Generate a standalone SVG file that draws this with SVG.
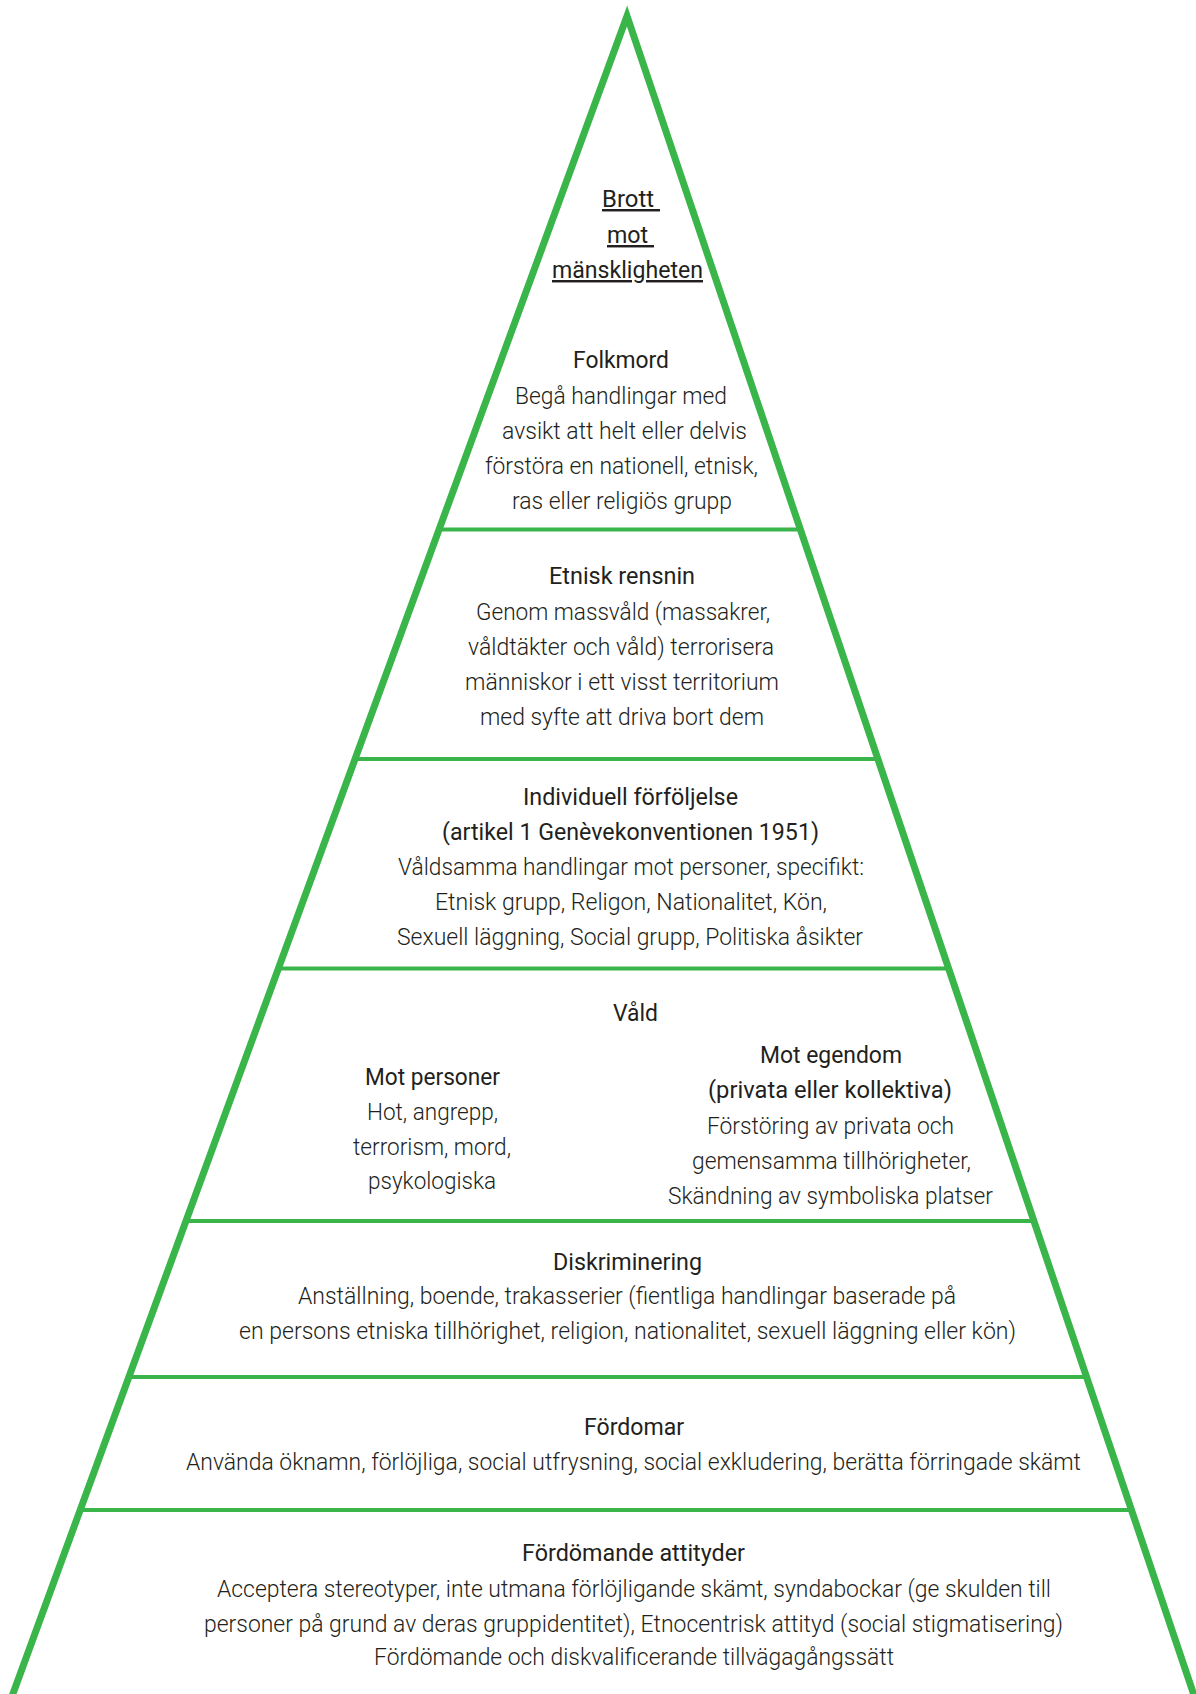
<svg xmlns="http://www.w3.org/2000/svg" width="1196" height="1694" viewBox="0 0 1196 1694">
<style>
  .frame { fill: none; stroke: #39b54a; stroke-width: 7; stroke-linejoin: miter; stroke-miterlimit: 10; }
  .tier { stroke: #39b54a; stroke-width: 4; }
  text { font-family: Roboto, "Liberation Sans", sans-serif; font-size: 24.5px; fill: #231f20; }
  .t { font-weight: 400; }
  .b { font-weight: 300; }
  .u { font-weight: 400; text-decoration: underline; white-space: pre; }
</style>
<rect width="1196" height="1694" fill="#ffffff"/>
<g id="connectors">
  <path class="frame" d="M 7 1710 L 627 16 L 1199 1710"/>
  <line class="tier" x1="439" y1="529.5" x2="801" y2="529.5"/>
  <line class="tier" x1="355" y1="759" x2="878" y2="759"/>
  <line class="tier" x1="278" y1="968.5" x2="950" y2="968.5"/>
  <line class="tier" x1="186" y1="1221" x2="1035" y2="1221"/>
  <line class="tier" x1="127" y1="1377" x2="1088" y2="1377"/>
  <line class="tier" x1="78" y1="1510" x2="1133" y2="1510"/>
</g>
<g id="brott-mot-manskligheten">
  <text class="u" x="602" y="207" textLength="58" lengthAdjust="spacingAndGlyphs" xml:space="preserve">Brott </text>
  <text class="u" x="607" y="243" textLength="47" lengthAdjust="spacingAndGlyphs" xml:space="preserve">mot </text>
  <text class="u" x="552" y="278" textLength="151" lengthAdjust="spacingAndGlyphs">mänskligheten</text>
</g>
<g id="folkmord">
  <text class="t" x="573" y="368" textLength="96" lengthAdjust="spacingAndGlyphs">Folkmord</text>
  <text class="b" x="515" y="404" textLength="212" lengthAdjust="spacingAndGlyphs">Begå handlingar med</text>
  <text class="b" x="502" y="439" textLength="245" lengthAdjust="spacingAndGlyphs">avsikt att helt eller delvis</text>
  <text class="b" x="485" y="474" textLength="273" lengthAdjust="spacingAndGlyphs">förstöra en nationell, etnisk,</text>
  <text class="b" x="512" y="509" textLength="220" lengthAdjust="spacingAndGlyphs">ras eller religiös grupp</text>
</g>
<g id="etnisk-rensning">
  <text class="t" x="549" y="584" textLength="146" lengthAdjust="spacingAndGlyphs">Etnisk rensnin</text>
  <text class="b" x="476" y="620" textLength="294" lengthAdjust="spacingAndGlyphs">Genom massvåld (massakrer,</text>
  <text class="b" x="468" y="655" textLength="306" lengthAdjust="spacingAndGlyphs">våldtäkter och våld) terrorisera</text>
  <text class="b" x="465" y="690" textLength="314" lengthAdjust="spacingAndGlyphs">människor i ett visst territorium</text>
  <text class="b" x="480" y="725" textLength="284" lengthAdjust="spacingAndGlyphs">med syfte att driva bort dem</text>
</g>
<g id="individuell-forfoljelse">
  <text class="t" x="523" y="805" textLength="215" lengthAdjust="spacingAndGlyphs">Individuell förföljelse</text>
  <text class="t" x="442" y="840" textLength="377" lengthAdjust="spacingAndGlyphs">(artikel 1 Genèvekonventionen 1951)</text>
  <text class="b" x="398" y="875" textLength="466" lengthAdjust="spacingAndGlyphs">Våldsamma handlingar mot personer, specifikt:</text>
  <text class="b" x="435" y="910" textLength="392" lengthAdjust="spacingAndGlyphs">Etnisk grupp, Religon, Nationalitet, Kön,</text>
  <text class="b" x="397" y="945" textLength="466" lengthAdjust="spacingAndGlyphs">Sexuell läggning, Social grupp, Politiska åsikter</text>
</g>
<g id="vald">
  <text class="t" x="613" y="1021" textLength="45" lengthAdjust="spacingAndGlyphs">Våld</text>
  <g id="mot-personer">
    <text class="t" x="365" y="1085" textLength="135" lengthAdjust="spacingAndGlyphs">Mot personer</text>
    <text class="b" x="367" y="1120" textLength="131" lengthAdjust="spacingAndGlyphs">Hot, angrepp,</text>
    <text class="b" x="353" y="1155" textLength="158" lengthAdjust="spacingAndGlyphs">terrorism, mord,</text>
    <text class="b" x="368" y="1189" textLength="128" lengthAdjust="spacingAndGlyphs">psykologiska</text>
  </g>
  <g id="mot-egendom">
    <text class="t" x="760" y="1063" textLength="142" lengthAdjust="spacingAndGlyphs">Mot egendom</text>
    <text class="t" x="708" y="1098" textLength="244" lengthAdjust="spacingAndGlyphs">(privata eller kollektiva)</text>
    <text class="b" x="707" y="1134" textLength="247" lengthAdjust="spacingAndGlyphs">Förstöring av privata och</text>
    <text class="b" x="692" y="1169" textLength="279" lengthAdjust="spacingAndGlyphs">gemensamma tillhörigheter,</text>
    <text class="b" x="668" y="1204" textLength="325" lengthAdjust="spacingAndGlyphs">Skändning av symboliska platser</text>
  </g>
</g>
<g id="diskriminering">
  <text class="t" x="553" y="1270" textLength="149" lengthAdjust="spacingAndGlyphs">Diskriminering</text>
  <text class="b" x="298" y="1304" textLength="658" lengthAdjust="spacingAndGlyphs">Anställning, boende, trakasserier (fientliga handlingar baserade på</text>
  <text class="b" x="239" y="1339" textLength="777" lengthAdjust="spacingAndGlyphs">en persons etniska tillhörighet, religion, nationalitet, sexuell läggning eller kön)</text>
</g>
<g id="fordomar">
  <text class="t" x="584" y="1435" textLength="100" lengthAdjust="spacingAndGlyphs">Fördomar</text>
  <text class="b" x="186" y="1470" textLength="895" lengthAdjust="spacingAndGlyphs">Använda öknamn, förlöjliga, social utfrysning, social exkludering, berätta förringade skämt</text>
</g>
<g id="fordomande-attityder">
  <text class="t" x="522" y="1561" textLength="223" lengthAdjust="spacingAndGlyphs">Fördömande attityder</text>
  <text class="b" x="217" y="1597" textLength="834" lengthAdjust="spacingAndGlyphs">Acceptera stereotyper, inte utmana förlöjligande skämt, syndabockar (ge skulden till</text>
  <text class="b" x="204" y="1632" textLength="859" lengthAdjust="spacingAndGlyphs">personer på grund av deras gruppidentitet), Etnocentrisk attityd (social stigmatisering)</text>
  <text class="b" x="374" y="1665" textLength="520" lengthAdjust="spacingAndGlyphs">Fördömande och diskvalificerande tillvägagångssätt</text>
</g>
</svg>
